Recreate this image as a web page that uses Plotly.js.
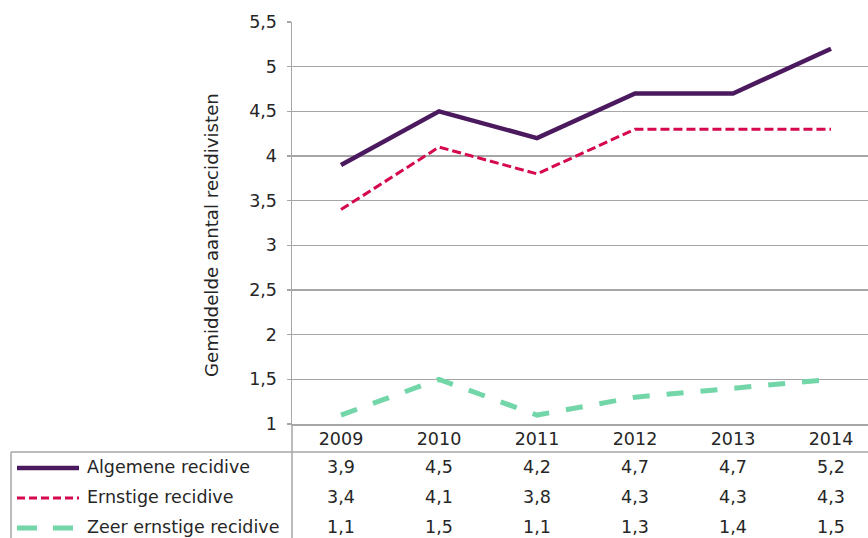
<!DOCTYPE html>
<html>
<head>
<meta charset="utf-8">
<script src="https://cdn.plot.ly/plotly-3.0.1.min.js"></script>
<style>
html, body { margin: 0; padding: 0; overflow: hidden; background: #fff; }
#chart { width: 882px; height: 538px; }
</style>
</head>
<body>
<div id="chart"></div>
<script>
// ---- data ----
var years = ['2009', '2010', '2011', '2012', '2013', '2014'];
var algemene = [3.9, 4.5, 4.2, 4.7, 4.7, 5.2];
var ernstige = [3.4, 4.1, 3.8, 4.3, 4.3, 4.3];
var zeerErnstig = [1.1, 1.5, 1.1, 1.3, 1.4, 1.5];
var seriesNames = ['Algemene recidive', 'Ernstige recidive', 'Zeer ernstige recidive'];
var yTitle = 'Gemiddelde aantal recidivisten';

// ---- style ----
var FONT = 'DejaVu Sans, Verdana, sans-serif';
var FS = 17.5;
var TXT = '#262626';
var GRID = '#a6a6a6';
var colors = ['#4b1a5e', '#d6084f', '#72d6a9'];
var widths = [4.5, 3, 5];
var dashes = ['solid', '9px,4px', '17px,17px'];
var keyDashes = ['solid', '8px,4px', '20px,16px'];

// layout geometry (pixels)
var W = 882, H = 538;
var L = 292, T = 22, R = 880, B = 424;
function px(xp) { return (xp - L) / (R - L); }
function py(yp) { return (B - yp) / (B - T); }

var seriesData = [algemene, ernstige, zeerErnstig];
var traces = seriesData.map(function (vals, i) {
  return {
    x: years, y: vals, type: 'scatter', mode: 'lines', name: seriesNames[i],
    line: { color: colors[i], width: widths[i], dash: dashes[i] },
    hoverinfo: 'skip'
  };
});

function fmt(v) { return v.toFixed(1).replace('.', ','); }

var rowY = [467, 497, 527];
var annotations = [];
var shapes = [];

seriesData.forEach(function (vals, i) {
  vals.forEach(function (v, j) {
    annotations.push({
      x: j, xref: 'x', y: py(rowY[i]), yref: 'paper',
      text: fmt(v), showarrow: false, xanchor: 'center', yanchor: 'middle',
      font: { family: FONT, size: FS, color: TXT }
    });
  });
  annotations.push({
    x: px(85), xref: 'paper', y: py(rowY[i]), yref: 'paper',
    text: seriesNames[i], showarrow: false, xanchor: 'left', yanchor: 'middle',
    font: { family: FONT, size: FS, color: TXT }
  });
  shapes.push({
    type: 'line', xref: 'paper', yref: 'paper',
    x0: px(17), x1: px(i === 2 ? 73 : 79), y0: py(rowY[i] + 1), y1: py(rowY[i] + 1),
    line: { color: colors[i], width: widths[i], dash: keyDashes[i] }
  });
});

annotations.push({
  x: px(211), xref: 'paper', y: py(235), yref: 'paper',
  text: yTitle, textangle: -90, showarrow: false,
  xanchor: 'center', yanchor: 'middle',
  font: { family: FONT, size: 18.2, color: TXT }
});

// table borders
shapes.push({ type: 'line', xref: 'paper', yref: 'paper', x0: px(11), x1: px(890), y0: py(452), y1: py(452), line: { color: GRID, width: 1.5 } });
shapes.push({ type: 'line', xref: 'paper', yref: 'paper', x0: 0, x1: 0, y0: 0, y1: py(545), line: { color: GRID, width: 1.5 } });
shapes.push({ type: 'line', xref: 'paper', yref: 'paper', x0: px(11), x1: px(11), y0: py(452), y1: py(545), line: { color: GRID, width: 1.5 } });

var layout = {
  width: W, height: H,
  margin: { l: L, r: W - R, t: T, b: H - B, pad: 0 },
  paper_bgcolor: '#fff', plot_bgcolor: '#fff',
  separators: ',.',
  showlegend: false,
  font: { family: FONT, size: FS, color: TXT },
  xaxis: {
    type: 'category', range: [-0.5, 5.5], fixedrange: true,
    showgrid: false, showline: true, linecolor: GRID, linewidth: 1.5,
    ticks: '', ticklabelstandoff: -2, tickfont: { family: FONT, size: FS, color: TXT },
    zeroline: false
  },
  yaxis: {
    range: [1, 5.5], dtick: 0.5, tick0: 1, fixedrange: true,
    showgrid: true, gridcolor: GRID, gridwidth: 1.5,
    showline: true, linecolor: GRID, linewidth: 1.5,
    ticks: 'outside', ticklen: 4, tickcolor: GRID, tickwidth: 1.5,
    ticklabelstandoff: 6,
    tickfont: { family: FONT, size: FS, color: TXT },
    zeroline: false
  },
  annotations: annotations,
  shapes: shapes
};

Plotly.newPlot('chart', traces, layout, { displayModeBar: false, staticPlot: true });
</script>
</body>
</html>
